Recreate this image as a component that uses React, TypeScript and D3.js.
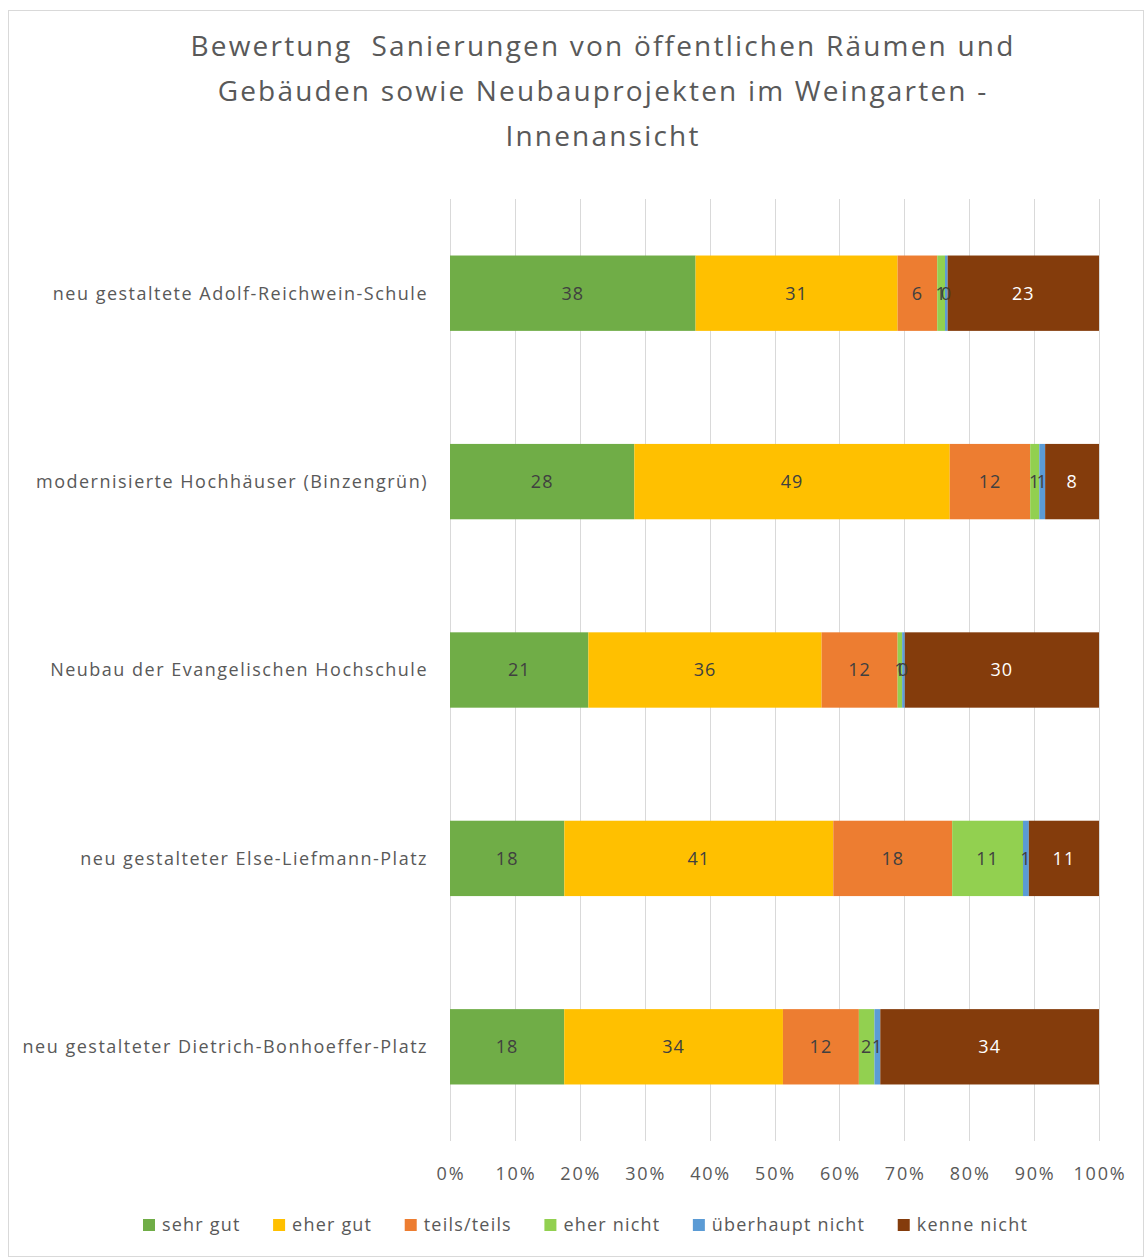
import { useEffect, useRef } from 'react';
import * as d3 from 'd3';

const categories = [
  'neu gestaltete Adolf-Reichwein-Schule',
  'modernisierte Hochhäuser (Binzengrün)',
  'Neubau der Evangelischen Hochschule',
  'neu gestalteter Else-Liefmann-Platz',
  'neu gestalteter Dietrich-Bonhoeffer-Platz',
];

const seriesNames = ['sehr gut', 'eher gut', 'teils/teils', 'eher nicht', 'überhaupt nicht', 'kenne nicht'];
const seriesColors = ['#70AD47', '#FFC000', '#ED7D31', '#92D050', '#5B9BD5', '#843C0C'];

const sehrGut = [37.8, 28.4, 21.3, 17.6, 17.6];
const eherGut = [31.1, 48.6, 35.9, 41.4, 33.7];
const teilsTeils = [6.1, 12.4, 11.7, 18.3, 11.7];
const eherNicht = [1.2, 1.4, 0.7, 10.9, 2.4];
const ueberhauptNicht = [0.4, 0.9, 0.4, 0.9, 0.9];
const kenneNicht = [23.3, 8.3, 29.9, 10.8, 33.7];

const tickValues = [0, 0.1, 0.2, 0.3, 0.4, 0.5, 0.6, 0.7, 0.8, 0.9, 1];

const titleLines = [
  'Bewertung  Sanierungen von öffentlichen Räumen und',
  'Gebäuden sowie Neubauprojekten im Weingarten -',
  'Innenansicht',
];

const W = 1144;
const H = 1258;
const FONT = '"Open Sans", sans-serif';
const TEXT = '#595959';

export default function App() {
  const ref = useRef<SVGSVGElement>(null);

  useEffect(() => {
    const svg = d3.select(ref.current);
    svg.selectAll('*').remove();

    const allSeries = [sehrGut, eherGut, teilsTeils, eherNicht, ueberhauptNicht, kenneNicht];
    const rows = categories.map((c, i) => {
      const r: any = { cat: c };
      seriesNames.forEach((s, j) => (r[s] = allSeries[j][i]));
      return r;
    });

    const stack = d3.stack().keys(seriesNames).offset(d3.stackOffsetExpand);
    const stacked = stack(rows);

    const x = d3.scaleLinear().domain([0, 1]).range([450, 1099]);
    const y = d3.scaleBand().domain(categories).range([199, 1141]).paddingInner(0.6).paddingOuter(0.3);

    // frame
    svg.append('rect')
      .attr('x', 8.5).attr('y', 10.5)
      .attr('width', W - 9).attr('height', H - 12)
      .attr('fill', '#fff').attr('stroke', '#d9d9d9');

    // title
    svg.append('g').selectAll('text').data(titleLines).enter().append('text')
      .attr('x', 603).attr('y', (d, i) => 56 + i * 45)
      .attr('text-anchor', 'middle')
      .attr('font-family', FONT).attr('font-size', 28).attr('fill', TEXT)
      .attr('letter-spacing', 2.2)
      .style('white-space', 'pre')
      .text(d => d);

    // grid
    svg.append('g').selectAll('line').data(tickValues).enter().append('line')
      .attr('x1', d => Math.round(x(d)) + 0.5).attr('x2', d => Math.round(x(d)) + 0.5)
      .attr('y1', 199).attr('y2', 1141)
      .attr('stroke', '#d9d9d9').attr('stroke-width', 1);

    // tick labels
    svg.append('g').selectAll('text').data(tickValues).enter().append('text')
      .attr('x', d => x(d) + 1).attr('y', 1180)
      .attr('text-anchor', 'middle')
      .attr('font-family', FONT).attr('font-size', 18).attr('fill', TEXT)
      .attr('letter-spacing', 1.8)
      .text(d => d3.format('.0%')(d));

    // category labels
    svg.append('g').selectAll('text').data(categories).enter().append('text')
      .attr('x', 428).attr('y', d => (y(d) as number) + y.bandwidth() / 2)
      .attr('dy', '0.35em')
      .attr('text-anchor', 'end')
      .attr('font-family', FONT).attr('font-size', 18).attr('fill', TEXT)
      .attr('letter-spacing', 1.5)
      .text(d => d);

    // bars
    const groups = svg.append('g').selectAll('g').data(stacked).enter().append('g')
      .attr('fill', (d, i) => seriesColors[i]);

    groups.selectAll('rect').data(d => d).enter().append('rect')
      .attr('x', d => x(d[0]))
      .attr('width', d => x(d[1]) - x(d[0]))
      .attr('y', d => y((d.data as any).cat) as number)
      .attr('height', y.bandwidth());

    // data labels
    const labels = svg.append('g');
    stacked.forEach((s, i) => {
      labels.selectAll(null).data(s).enter().append('text')
        .attr('x', d => (x(d[0]) + x(d[1])) / 2)
        .attr('y', d => (y((d.data as any).cat) as number) + y.bandwidth() / 2)
        .attr('dy', '0.35em')
        .attr('text-anchor', 'middle')
        .attr('font-family', FONT).attr('font-size', 18)
        .attr('letter-spacing', 1)
        .attr('fill', i === 5 ? '#ffffff' : '#404040')
        .text(d => Math.round((d.data as any)[s.key]));
    });

    // legend
    const legend = svg.append('g');
    let lx = 143;
    seriesNames.forEach((name, i) => {
      legend.append('rect')
        .attr('x', lx).attr('y', 1219).attr('width', 12).attr('height', 12)
        .attr('fill', seriesColors[i]);
      const t = legend.append('text')
        .attr('x', lx + 19).attr('y', 1225).attr('dy', '0.35em')
        .attr('font-family', FONT).attr('font-size', 18).attr('fill', TEXT)
        .attr('letter-spacing', 1.2)
        .text(name);
      const w = (t.node() as SVGTextElement).getComputedTextLength();
      lx += 19 + w + 32.5;
    });
  }, []);

  return (
    <div style={{ position: 'absolute', left: 0, top: 0 }}>
      <svg ref={ref} width={W} height={H} style={{ display: 'block' }} />
    </div>
  );
}
